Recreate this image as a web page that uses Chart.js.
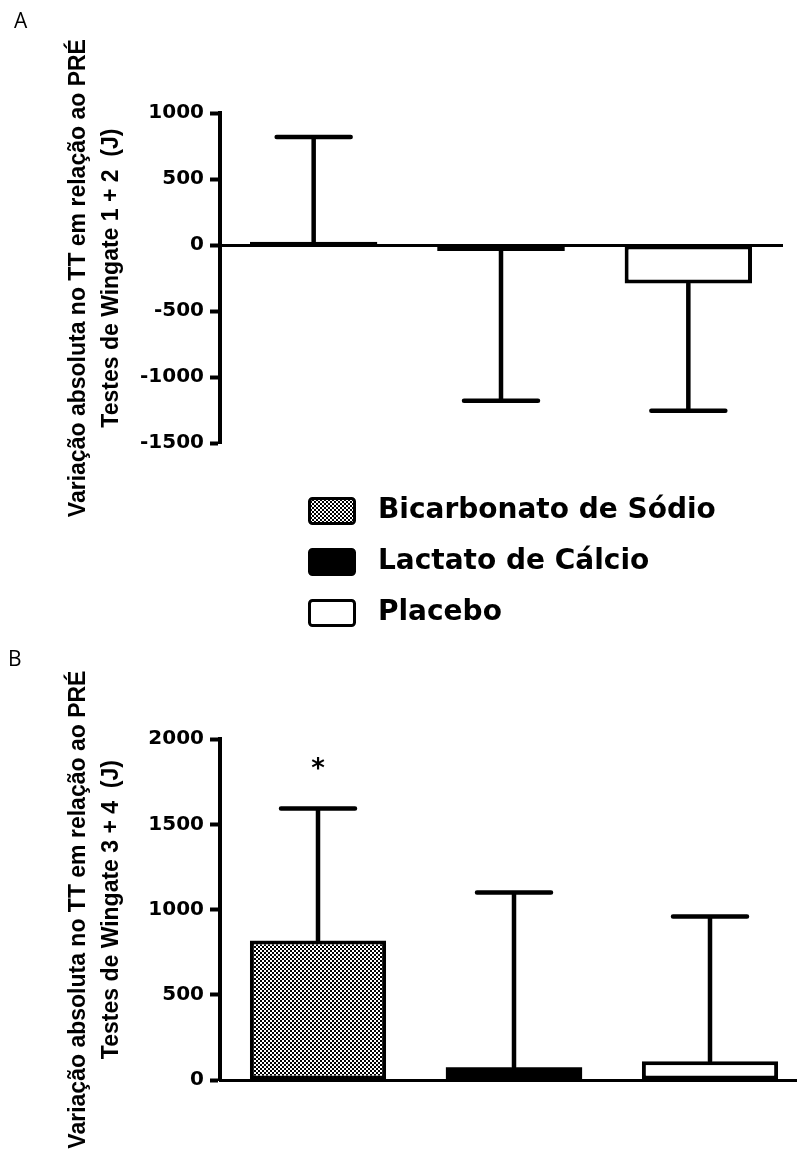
<!DOCTYPE html>
<html>
<head>
<meta charset="utf-8">
<script src="https://cdn.jsdelivr.net/npm/chart.js@4.4.1/dist/chart.umd.min.js"></script>
<style>
  html, body { margin: 0; padding: 0; background: #fff; overflow: hidden; width: 797px; height: 1164px; }
  .box { position: absolute; }
</style>
</head>
<body>
<div class="box" style="left:0;top:0;width:797px;height:540px"><canvas id="chartA"></canvas></div>
<div class="box" style="left:277px;top:474px;width:500px;height:182px"><canvas id="legend"></canvas></div>
<div class="box" style="left:0;top:630px;width:830px;height:534px"><canvas id="chartB"></canvas></div>
<script>
// groups (categories)
const groups = ['Bicarbonato de Sódio', 'Lactato de Cálcio', 'Placebo'];

// panel A: Wingate 1 + 2
const meanA = [25, -45, -290];
const errA = [795, 1135, 965];
const yTicksA = [-1500, -1000, -500, 0, 500, 1000];
const titleA = ['Variação absoluta no TT em relação ao PRÉ', 'Testes de Wingate 1 + 2  (J)'];

// panel B: Wingate 3 + 4
const meanB = [818, 75, 110];
const errB = [776, 1025, 850];
const marksB = ['*', '', ''];
const yTicksB = [0, 500, 1000, 1500, 2000];
const titleB = ['Variação absoluta no TT em relação ao PRÉ', 'Testes de Wingate 3 + 4  (J)'];

Chart.defaults.color = '#000';

// checkered fill for the bicarbonate group
function checkerPattern(g) {
  const c = document.createElement('canvas');
  c.width = 4; c.height = 4;
  const t = c.getContext('2d');
  t.fillStyle = '#000';
  t.fillRect(0, 0, 4, 4);
  t.fillStyle = '#fff';
  t.fillRect(0, 0, 2, 2);
  t.fillRect(2, 2, 2, 2);
  return g.createPattern(c, 'repeat');
}
const scratch = document.createElement('canvas').getContext('2d');
const fills = [checkerPattern(scratch), '#000', '#fff'];
const borders = [4, 0, 4];   // the solid black bar needs no outline

// legend swatches (rounded boxes with a black outline)
const swatches = fills.map((f, i) => {
  const c = document.createElement('canvas');
  c.width = 48; c.height = 28;
  const g = c.getContext('2d');
  g.fillStyle = i === 0 ? checkerPattern(g) : f;
  g.strokeStyle = '#000';
  g.lineWidth = 3;
  g.beginPath();
  g.roundRect(1.5, 1.5, 45, 25, 3);
  g.fill();
  g.stroke();
  return c;
});

const tickFont = {family: 'DejaVu Sans', size: 20, weight: 'bold'};
const titleFont = {family: 'Liberation Sans', size: 23, weight: 'bold', lineHeight: 1.4};

// error bars (SD) drawn away from zero, plus significance marks
const errorBars = {
  id: 'errorBars',
  afterDatasetsDraw(chart, args, opts) {
    const ctx = chart.ctx;
    const y = chart.scales.y;
    const meta = chart.getDatasetMeta(0);
    ctx.save();
    ctx.strokeStyle = '#000';
    ctx.fillStyle = '#000';
    ctx.lineWidth = 4.5;
    ctx.lineCap = 'round';
    meta.data.forEach((bar, i) => {
      const v = opts.values[i];
      const end = v >= 0 ? v + opts.errors[i] : v - opts.errors[i];
      const y0 = y.getPixelForValue(v);
      const y1 = y.getPixelForValue(end);
      ctx.beginPath();
      ctx.moveTo(bar.x, y0);
      ctx.lineTo(bar.x, y1);
      ctx.moveTo(bar.x - 37, y1);
      ctx.lineTo(bar.x + 37, y1);
      ctx.stroke();
      if (opts.marks && opts.marks[i]) {
        ctx.font = 'bold 26px "DejaVu Sans"';
        ctx.textAlign = 'center';
        ctx.textBaseline = 'alphabetic';
        ctx.fillText(opts.marks[i], bar.x, y1 - 31);
      }
    });
    ctx.restore();
  }
};

function panel(id, letter, letterPad, values, errors, marks, yMin, yMax, yTicks, yTitle, padding, barPct) {
  return new Chart(document.getElementById(id), {
    type: 'bar',
    data: {
      labels: groups,
      datasets: [{
        data: values,
        backgroundColor: fills,
        borderColor: '#000',
        borderWidth: borders,
        borderSkipped: false,
        barPercentage: barPct,
        categoryPercentage: 1
      }]
    },
    options: {
      responsive: true,
      maintainAspectRatio: false,
      animation: false,
      layout: {padding: padding},
      plugins: {
        legend: {display: false},
        tooltip: {enabled: false},
        title: {
          display: true,
          text: letter,
          align: 'start',
          color: '#000',
          font: {family: 'Open Sans', size: 21, weight: 'normal'},
          padding: letterPad
        },
        errorBars: {values: values, errors: errors, marks: marks}
      },
      scales: {
        x: {
          position: {y: 0},
          ticks: {display: false},
          grid: {display: false},
          border: {color: '#000', width: 3}
        },
        y: {
          min: yMin,
          max: yMax,
          afterBuildTicks: s => { s.ticks = yTicks.map(v => ({value: v})); },
          afterFit: s => { s.width = 220 - padding.left; },
          ticks: {font: tickFont, color: '#000', padding: 6, callback: v => String(v)},
          grid: {drawOnChartArea: false, tickLength: 10, tickWidth: 4, tickColor: '#000'},
          border: {color: '#000', width: 4},
          title: {
            display: true,
            text: yTitle,
            color: '#000',
            font: titleFont,
            padding: {top: 63 - padding.left, bottom: 0}
          }
        }
      }
    },
    plugins: [errorBars]
  });
}

panel('chartA', 'A', {top: 9, bottom: 79}, meanA, errA, null, -1500, 1000, yTicksA, titleA,
  {left: 14, right: 15, top: 0, bottom: 97}, 0.68);

panel('chartB', 'B', {top: 17, bottom: 67}, meanB, errB, marksB, 0, 2000, yTicksB, titleB,
  {left: 8, right: 22, top: 0, bottom: 84}, 0.695);

// shared legend, one item per group, stacked in a column
new Chart(document.getElementById('legend'), {
  type: 'bar',
  data: {
    labels: [],
    datasets: groups.map((g, i) => ({
      label: g,
      data: [],
      backgroundColor: fills[i],
      borderColor: '#000',
      borderWidth: 3
    }))
  },
  options: {
    responsive: true,
    maintainAspectRatio: false,
    animation: false,
    layout: {padding: 0},
    scales: {x: {display: false}, y: {display: false}},
    plugins: {
      tooltip: {enabled: false},
      legend: {
        position: 'left',
        align: 'start',
        maxWidth: 490,
        onClick: null,
        labels: {
          color: '#000',
          font: {family: 'DejaVu Sans', size: 28, weight: 'bold'},
          usePointStyle: true,
          pointStyleWidth: 64,
          boxHeight: 28,
          padding: 23,
          generateLabels: chart => chart.data.datasets.map((ds, i) => ({
            text: ds.label,
            pointStyle: swatches[i],
            fillStyle: fills[i],
            strokeStyle: '#000',
            lineWidth: 0,
            fontColor: '#000',
            hidden: false,
            datasetIndex: i
          }))
        }
      }
    }
  }
});
</script>
</body>
</html>
